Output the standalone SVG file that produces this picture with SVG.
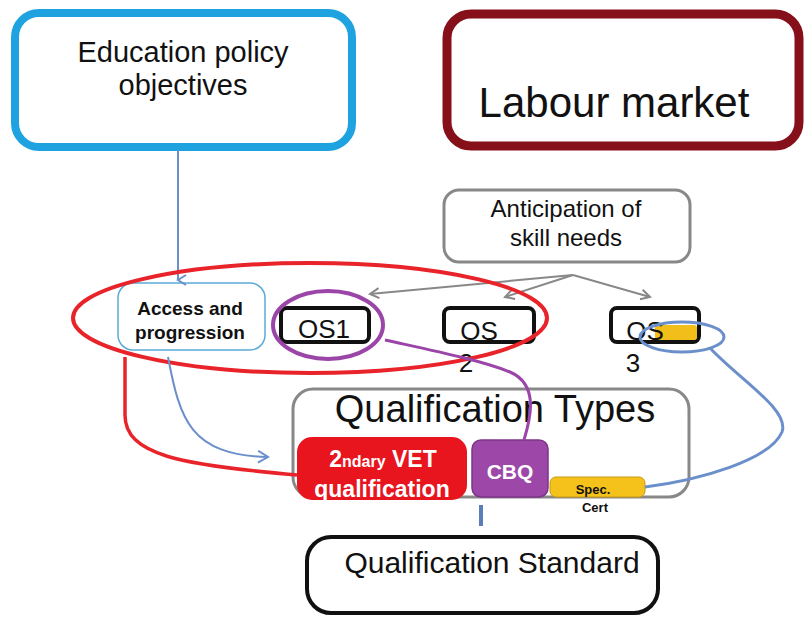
<svg xmlns="http://www.w3.org/2000/svg" width="807" height="622" viewBox="0 0 807 622">
<style>
text{font-family:"Liberation Sans",Arial,sans-serif;fill:#111;text-anchor:middle}
.b{font-weight:bold}
.w{fill:#fff;font-weight:bold}
.os{fill:#fff;stroke:#111;stroke-width:4}
</style>
<defs>
<marker id="ag" markerWidth="12" markerHeight="12" refX="10" refY="6" orient="auto" markerUnits="userSpaceOnUse"><path d="M1,1 L10,6 L1,11" fill="none" stroke="#888" stroke-width="2"/></marker>
<marker id="ab" markerWidth="14" markerHeight="14" refX="11" refY="7" orient="auto" markerUnits="userSpaceOnUse"><path d="M1,1 L11,7 L1,13" fill="none" stroke="#6A8FCB" stroke-width="2"/></marker>
<marker id="ab2" markerWidth="12" markerHeight="12" refX="6" refY="10" orient="auto" markerUnits="userSpaceOnUse"><path d="M1,2 L6,10 L11,2" fill="none" stroke="#6A8FCB" stroke-width="2"/></marker>
</defs>

<g id="education">
<rect x="15" y="13" width="337" height="134" rx="24" fill="#fff" stroke="#1FA2E0" stroke-width="8"/>
<text x="183" y="62" font-size="29">Education policy</text>
<text x="183" y="95" font-size="29">objectives</text>
</g>

<g id="labour">
<rect x="447" y="14" width="352" height="132" rx="24" fill="#fff" stroke="#86101A" stroke-width="9"/>
<text x="614" y="117" font-size="42">Labour market</text>
</g>

<g id="anticipation">
<rect x="444" y="190" width="246" height="72" rx="15" fill="#fff" stroke="#888" stroke-width="3"/>
<text x="566" y="217" font-size="24">Anticipation of</text>
<text x="566" y="246" font-size="24">skill needs</text>
</g>

<g id="qualtypes">
<rect x="293" y="389" width="396" height="108" rx="20" fill="#fff" stroke="#888" stroke-width="3"/>
<text x="495" y="422" font-size="38">Qualification Types</text>
</g>

<g id="access">
<rect x="118" y="283" width="147" height="67" rx="15" fill="#fff" stroke="#5AAAD8" stroke-width="1.5"/>
<text x="190" y="315" font-size="19" class="b">Access and</text>
<text x="190" y="339" font-size="19" class="b">progression</text>
</g>

<g id="os1">
<rect x="281" y="308" width="88" height="34" rx="6" class="os"/>
<text x="324" y="338" font-size="26">OS1</text>
</g>

<g id="os2">
<rect x="444" y="308" width="90" height="34" rx="6" class="os"/>
<text x="479" y="340" font-size="26">OS</text>
<text x="466" y="372" font-size="26">2</text>
</g>

<g id="os3">
<rect x="611" y="308" width="88" height="34" rx="6" class="os"/>
<rect x="655" y="325" width="42" height="15" rx="3" fill="#F2BE1A"/>
<text x="645" y="340" font-size="26">OS</text>
<text x="633" y="372" font-size="26">3</text>
</g>

<g id="vet">
<rect x="297" y="437" width="170" height="63" rx="15" fill="#E8151F"/>
<text x="383" y="467" font-size="23" class="w">2<tspan font-size="16">ndary</tspan> VET</text>
<text x="382" y="497" font-size="23" class="w">qualification</text>
</g>

<g id="cbq">
<rect x="472" y="440" width="76" height="57" rx="9" fill="#9D47A8" stroke="#7E3488" stroke-width="1.5"/>
<text x="510" y="479" font-size="21" class="w">CBQ</text>
</g>

<g id="speccert">
<rect x="550" y="477" width="95" height="20" rx="6" fill="#F5C21B" stroke="#C89A10" stroke-width="1"/>
<text x="593" y="494" font-size="13" class="b">Spec.</text>
<text x="595" y="512" font-size="13" class="b">Cert</text>
</g>

<g id="qualstd">
<rect x="307" y="537" width="351" height="76" rx="24" fill="#fff" stroke="#111" stroke-width="4"/>
<text x="492" y="573" font-size="30">Qualification Standard</text>
</g>

<g id="connectors" fill="none">
<path d="M178,150 L178,280" stroke="#6A8FCB" stroke-width="2" marker-end="url(#ab2)"/>
<path d="M573,275 L370,294" stroke="#888" stroke-width="2" marker-end="url(#ag)"/>
<path d="M573,275 L505,297" stroke="#888" stroke-width="2" marker-end="url(#ag)"/>
<path d="M573,275 L650,297" stroke="#888" stroke-width="2" marker-end="url(#ag)"/>
<ellipse cx="310" cy="318" rx="237" ry="55" stroke="#E8232A" stroke-width="4"/>
<ellipse cx="328" cy="325" rx="55" ry="34" stroke="#9B45A8" stroke-width="4"/>
<ellipse cx="682" cy="337" rx="42" ry="15" stroke="#6A8FCB" stroke-width="3"/>
<path d="M385,340 C430,350 480,360 510,372 C540,385 530,420 524,440" stroke="#9B45A8" stroke-width="3"/>
<path d="M125,357 L125,415 C125,455 180,465 297,475" stroke="#E8232A" stroke-width="3.5"/>
<path d="M168,357 C180,420 190,455 268,457" stroke="#6A8FCB" stroke-width="2" marker-end="url(#ab)"/>
<path d="M710,348 C740,380 790,410 782,432 C770,460 700,480 645,487" stroke="#6A8FCB" stroke-width="3"/>
<path d="M481,505 L481,526" stroke="#5A7FB8" stroke-width="4"/>
</g>
</svg>
